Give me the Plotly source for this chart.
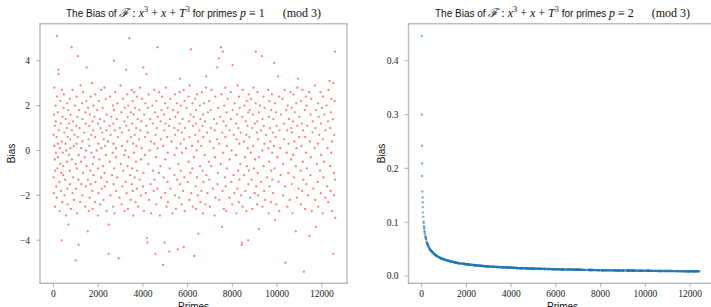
import plotly.graph_objects as go

# ---------------- data ----------------
# Bias for primes p = 1 (mod 3), in tenths, in increasing order of p
BIAS_MOD1_X10 = [
    7, -12, -19, 16, 28, 2, -4, 11, -25, -9, 20, 13, -1, -16, 6, -21, 24, 51, -8, 3,
    17, -3, 36, 34, 9, -14, -27, 1, -6, 22, 12, -18, -10, -40, 4, 27, -23, 15, -1, -11,
    -7, 19, 25, 8, -20, -13, 3, 14, -29, 0, 10, -5, 21, -17, -24, 6, 18, -33, -2, 12,
    23, -9, -15, 5, 1, 16, -26, 46, 9, -4, -19, 27, 13, -12, 2, -22, 7, 20, -49, -6,
    -17, 11, 3, 24, -8, -28, 15, 6, 42, -13, -42, -2, 18, 10, -23, 29, -5, 1, -15, 21,
    4, -20, 14, -10, 26, 8, -3, -25, 17, 12, -16, 0, 22, -7, 37, -36, -13, 19, 5, -27,
    11, 2, -21, 16, -9, -15, 24, 7, -1, 30, -18, 13, -26, -6, 9, 20, -11, -3, 15, -23,
    6, 25, -14, 0, 18, -29, -8, 12, 3, -19, 22, -4, 14, -24, 10, -12, 27, 1, -17, 8,
    19, -7, -22, 5, 13, 28, -10, -16, 2, 23, -2, 9, -27, 16, -14, 4, -46, -33, 11, -5,
    24, -20, 7, 15, -11, -1, 20, -25, 12, 3, -15, 40, 18, -8, -28, 9, 26, -3, 1, -18,
    14, -12, 21, 6, -48, -21, 10, 29, -6, 17, -24, 2, 8, -16, 23, -9, -2, 13, -27, 19,
    0, -14, 36, 11, -19, 25, 4, -7, 15, -26, 20, -3, 9, 50, -11, -22, 17, 6, 27, -15,
    -8, 12, 22, -18, 3, -29, 16, -1, 26, -12, 7, 19, -23, -5, 10, 2, -17, 24, -9, 14,
    -25, 5, 18, -13, 28, 9, -20, -4, 13, 1, 23, -16, 37, -10, -27, 16, 6, -2, 21, -19,
    11, 34, -39, -41, 8, 19, -6, 25, -22, 0, 14, -15, 4, -28, 20, 12, -9, -18, 27, 3,
    -13, 17, -46, 7, -3, -24, 22, 10, -17, 46, 1, 15, -10, 26, -29, -7, 13, 5, -21, 18,
    24, -51, 2, -12, 16, 9, -41, -19, 21, -4, 12, 28, -25, 6, -14, 19, -1, -23, 11, -45,
    -8, 14, 23, -17, 4, -28, 18, 10, -11, -2, 25, -20, 7, 15, -26, 1, 21, -13, 9, -44,
    17, -6, -21, 12, 26, -15, 32, 3, -9, 20, -24, 8, -1, 14, -18, 27, -43, 5, -12, 22,
    -27, 10, 1, 19, -14, 24, -5, 13, -22, 6, 29, -10, 16, 45, -19, 2, -8, 21, -25, 11,
    15, -3, -47, 23, 7, -16, 12, -26, 18, 0, -12, 25, -20, 4, -37, 9, 20, -7, -23, 14,
    2, -18, 26, 11, -9, -28, 16, 6, -14, 21, -2, 13, -24, 28, 33, -11, 8, -19, 17, -5,
    22, -13, 4, -25, 18, 10, -7, 27, -17, 1, 14, -29, 9, -3, 24, -21, 12, 5, 37, -15,
    -10, 19, 41, 3, -22, 15, -6, 46, 25, -34, 8, -18, 44, -1, 13, -26, 20, -12, 6, 28,
    -16, 11, -27, 17, 2, -8, 23, -21, 9, -4, 26, 14, -14, 0, -24, 38, 18, -11, 7, -19,
    21, -2, 12, -28, 5, 16, -17, 29, -9, 10, -23, 24, 3, -13, 19, -6, 8, -20, -42, -41,
    15, -25, 27, 4, -11, 20, -3, -18, 13, 7, -27, 22, -7, 11, 1, -40, 17, -15, 25, -9,
    6, 18, -21, -1, 23, -13, 10, -26, 16, 2, 28, -8, -19, 12, -4, 21, 44, -16, 8, -24,
    13, 26, -10, 5, -20, 17, -35, -3, 20, 9, -14, 42, 0, -25, 14, 24, -7, 11, -18, 3,
    19, -22, 7, -12, 27, 1, -28, 15, -5, 22, -16, 10, 4, -23, 18, -9, 25, -1, -13, 8,
    -19, 14, 2, 39, -8, 21, -31, 6, 17, -24, 11, -3, 33, -14, 24, -27, 9, 1, -11, 16,
    23, -6, -20, 12, 5, 27, -16, -50, 18, -1, 9, -25, 20, -10, 3, 14, -22, 26, -4, 10,
    -15, 19, 8, -28, 13, -2, 25, -12, 4, 17, -36, -7, 21, 1, -21, 11, 28, 32, -17, 6,
    15, -9, -24, 22, 2, 12, -18, 27, -5, 9, -13, -54, 18, -26, 6, 24, -1, -15, 20, -8,
    11, -20, 26, -38, 4, -11, 16, -3, 23, -27, 8, 13, -17, 1, 29, -22, 10, -34, 18, -6,
    -14, 21, 3, -25, 15, 7, -9, 26, -19, 12, -2, 19, -28, 5, 24, -12, -5, 16, -21, 9,
    20, -16, 1, 13, -23, 27, 31, -7, 10, -18, 17, -1, 23, -27, 4, 14, -46, 30, -10, -20,
    7, 22, -13, 44, -30,
]

# Bias for primes p = 2 (mod 3), in units of 1e-4, in increasing order of p
BIAS_MOD2_E4 = [
    4460, 3000, 2420, 2090, 1860, 1570, 1460, 1370, 1280, 1180, 1100, 1010,
    986, 925, 899, 875, 830, 812, 778, 735, 722, 710, 687, 677, 630, 622, 614, 600,
    593, 586, 579, 567, 555, 539, 534, 510, 506, 501, 485, 482, 475,
    474, 467, 461, 458, 452, 449, 443, 438, 432, 430, 425, 411, 409, 407, 400, 398,
    396, 390, 383, 381, 380, 378, 373, 371, 366, 362, 356, 352, 349, 344, 341, 339,
    337, 335, 331, 330, 327, 326, 321, 318,
    317, 316, 315, 313, 312, 311,
    308, 306, 304, 302, 299, 297, 295, 293, 291, 290, 288, 286, 285, 283, 281, 280,
    278, 277, 275, 274, 272, 271, 269, 268, 266, 265, 264, 262, 261, 260, 258, 257,
    256, 254, 253,
    252, 250, 249, 248, 247, 245, 244, 243, 242, 241, 240, 238, 237, 236, 235, 234,
    233, 232, 231, 230, 229, 228, 227, 226, 225, 224, 223, 222, 222, 221, 220, 219,
    218, 218, 217, 216, 215, 215, 214, 213, 212, 212, 211, 210, 209, 209, 208, 207,
    207, 206, 205, 204, 204, 203, 202, 202, 201, 200, 200, 199, 198, 198, 197, 196,
    195, 195, 194, 194, 193, 192, 192, 191, 191, 190, 190, 189, 189, 188, 188, 187,
    187, 186, 186, 185, 184, 184, 183, 183, 182, 182, 181, 181, 180, 180, 179, 179,
    178, 178, 177, 177, 176, 176, 175, 175, 174, 174, 173, 173, 172, 172, 171, 171,
    171, 170, 170, 169, 169, 168, 168, 168, 167, 167, 166, 166, 166,
    165, 165, 165, 164, 164, 164, 163, 163, 163, 162, 162, 162, 161, 161, 161, 160,
    160, 160, 159, 159, 159, 158, 158, 158, 157, 157, 157, 156, 156, 156, 155,
    155, 155, 154, 154, 154, 153, 153, 152, 152, 152, 151, 151, 150, 150, 150, 149,
    149, 149, 148, 148, 148, 147, 147, 147, 146, 146,
    146, 146, 145, 145, 145, 145, 144, 144, 144, 143, 143, 143, 143, 142, 142, 142,
    142, 141, 141, 141, 141, 140, 140, 140, 140, 140, 139, 139, 139, 139, 139, 139, 139,
    138, 138, 138, 138, 137, 137, 137, 136, 136, 136, 136, 135, 135, 135, 135, 134,
    134, 134, 134, 134, 133, 133, 133, 133, 133, 132, 132, 132, 132,
    132, 131, 131, 131, 131, 131, 130, 130, 130, 130, 130, 129, 129, 129, 129, 129,
    128, 128, 128, 128, 128, 128, 127, 127, 127, 127, 127, 127,
    126, 126, 126, 126, 126, 125, 125, 125, 125, 125, 125, 124, 124, 124, 124, 124, 124,
    123, 123, 123, 123, 123, 123, 122, 122, 122, 122, 122, 122, 122,
    121, 121, 121, 121, 121, 121, 120, 120, 120, 120, 120, 120, 119, 119, 119, 119, 119, 119,
    118, 118, 118, 118, 118, 117, 117, 117, 117, 117,
    116, 116, 116, 116, 116, 116, 115, 115, 115, 115, 115, 115, 115,
    114, 114, 114, 114, 114, 114, 114, 113, 113, 113, 113, 113, 113,
    112, 112, 112, 112, 112, 112, 112, 112, 111, 111, 111, 111, 111, 111, 111, 111, 111,
    110, 110, 110, 110, 110, 110, 110, 110, 110, 110, 110,
    109, 109, 109, 109, 109, 109, 108, 108, 108, 108, 108, 108, 108,
    107, 107, 107, 107, 107, 107, 107, 106, 106, 106, 106, 106, 106,
    105, 105, 105, 105, 105, 105, 105, 105, 105, 105, 104, 104, 104, 104, 104, 104, 104, 104, 104, 104,
    103, 103, 103, 103, 103, 103, 103, 103, 103,
    102, 102, 102, 102, 102, 102, 102, 102, 102, 102, 102, 102, 102, 102, 102,
    101, 101, 101, 101, 101, 101, 101, 101, 101, 101, 101, 101, 101, 101, 101,
    100, 100, 100, 100, 100, 100, 100, 100, 100, 99, 99, 99, 99, 99, 99, 99, 99, 99,
    98, 98, 98, 98, 98, 98, 98, 98,
    97, 97, 97, 97, 97, 97, 97, 97, 97, 97, 97, 97, 97,
    96, 96, 96, 96, 96, 96, 96, 96, 96, 96, 96, 96,
    95, 95, 95, 95, 95, 95, 95, 95, 95, 94, 94, 94, 94, 94, 94, 94, 94, 94, 94,
    93, 93, 93, 93, 93, 93, 93, 93, 93,
    92, 92, 92, 92, 92, 92, 92, 92, 92, 92, 92, 92, 92, 92,
    91, 91, 91, 91, 91, 91, 91, 91, 91, 91, 91, 91, 91,
    90, 90, 90, 90, 90, 90, 90, 90, 90, 90, 90, 90, 90,
    89, 89, 89, 89, 89, 89, 89, 89, 89, 89, 89, 89,
    88, 88, 88, 88, 88, 88, 88, 88, 88, 88, 88, 88, 88, 88, 88, 88,
    87, 87, 87, 87, 87, 87, 87, 87, 87, 87, 87, 87,
]

X_TICKS = [0, 2000, 4000, 6000, 8000, 10000, 12000]
Y1_TICKS = [-4, -2, 0, 2, 4]
Y1_LABELS = ["\u22124", "\u22122", "0", "2", "4"]
Y2_TICKS = [0.0, 0.1, 0.2, 0.3, 0.4]
Y2_LABELS = ["0.0", "0.1", "0.2", "0.3", "0.4"]

# primes (the x categories), split by residue mod 3
LIMIT = 13000
sieve = [True] * (LIMIT + 1)
sieve[0] = sieve[1] = False
for i in range(2, int(LIMIT ** 0.5) + 1):
    if sieve[i]:
        for j in range(i * i, LIMIT + 1, i):
            sieve[j] = False
primes = [n for n in range(2, LIMIT + 1) if sieve[n]]
primes_mod1 = [p for p in primes if p % 3 == 1]
primes_mod2 = [p for p in primes if p % 3 == 2]

n1 = min(len(primes_mod1), len(BIAS_MOD1_X10))
n2 = min(len(primes_mod2), len(BIAS_MOD2_E4))
x1 = primes_mod1[:n1]
y1 = [v / 10 for v in BIAS_MOD1_X10[:n1]]
x2 = primes_mod2[:n2]
y2 = [v / 10000 for v in BIAS_MOD2_E4[:n2]]

# ---------------- figure ----------------
W, H = 711, 307
def fx(px):
    return px / W
def fy(py):
    return 1 - py / H

SANS = "Liberation Sans, Arial, sans-serif"
SERIF = "Liberation Serif, Times New Roman, serif"
LINE = "#262626"

L1, R1, L2, R2 = 40, 347, 408.5, 711
TOP, BOT = 23.7, 283.3
X1_RANGE = [-600, 13125]
X2_RANGE = [-590, 12939]
Y1_RANGE = [-5.915, 5.648]
Y2_RANGE = [-0.01357, 0.469]

fig = go.Figure()
fig.add_trace(go.Scatter(
    x=x1, y=y1, mode="markers", xaxis="x", yaxis="y",
    marker=dict(size=2.3, color="rgba(255,0,0,0.5)", line=dict(width=0)),
    showlegend=False, hoverinfo="skip"))
fig.add_trace(go.Scatter(
    x=x2, y=y2, mode="markers", xaxis="x2", yaxis="y2",
    marker=dict(size=2.4, color="rgba(31,119,180,0.55)", line=dict(width=0)),
    showlegend=False, hoverinfo="skip"))

tick_font = dict(family=SERIF, size=9.5, color="#222")
x_common = dict(showline=False, ticks="outside", ticklen=1, tickwidth=1,
                tickcolor="rgba(0,0,0,0)", showgrid=False, zeroline=False,
                automargin=False, tickfont=tick_font)
y_common = dict(showline=False, ticks="outside", ticklen=4, tickwidth=1,
                tickcolor="rgba(0,0,0,0)", showgrid=False, zeroline=False,
                automargin=False, tickfont=tick_font, ticklabelstandoff=3)

ydom = [fy(BOT), fy(TOP)]
fig.update_layout(
    template="simple_white",
    width=W, height=H, margin=dict(l=0, r=0, t=0, b=0, pad=0),
    paper_bgcolor="white", plot_bgcolor="white",
    xaxis=dict(domain=[fx(L1), fx(R1)], range=X1_RANGE,
               tickvals=X_TICKS, ticktext=[str(v) for v in X_TICKS], anchor="y", **x_common),
    yaxis=dict(domain=ydom, range=Y1_RANGE,
               tickvals=Y1_TICKS, ticktext=Y1_LABELS, anchor="x", **y_common),
    xaxis2=dict(domain=[fx(L2), fx(R2)], range=X2_RANGE,
                tickvals=X_TICKS, ticktext=[str(v) for v in X_TICKS], anchor="y2", **x_common),
    yaxis2=dict(domain=ydom, range=Y2_RANGE,
                tickvals=Y2_TICKS, ticktext=Y2_LABELS, anchor="x2", **y_common),
)

# frames and tick marks, drawn as thin filled rectangles
SW = 1.4   # spine thickness, px
TW = 1.1   # tick thickness, px
TL = 4.0   # tick length, px
box = dict(type="rect", layer="above", fillcolor=LINE, line=dict(width=0))

def hbar(xa, xb, y, w):
    fig.add_shape(xref="paper", yref="paper", x0=fx(xa - w / 2), x1=fx(xb + w / 2),
                  y0=fy(y + w / 2), y1=fy(y - w / 2), **box)

def vbar(x, ya, yb, w):
    fig.add_shape(xref="paper", yref="paper", x0=fx(x - w / 2), x1=fx(x + w / 2),
                  y0=fy(yb), y1=fy(ya), **box)

hbar(L1, R1, BOT, SW); hbar(L1, R1, TOP, SW); vbar(L1, TOP, BOT, SW); vbar(R1, TOP, BOT, SW)
hbar(L2, R2, BOT, SW); hbar(L2, R2, TOP, SW); vbar(L2, TOP, BOT, SW)

for xref, rng, l, r in (("x", X1_RANGE, L1, R1), ("x2", X2_RANGE, L2, R2)):
    half = (TW / 2) * (rng[1] - rng[0]) / (r - l)
    for t in X_TICKS:
        fig.add_shape(xref=xref, yref="paper", x0=t - half, x1=t + half,
                      y0=fy(BOT + TL), y1=fy(BOT), **box)

for yref, rng, ticks, l in (("y", Y1_RANGE, Y1_TICKS, L1), ("y2", Y2_RANGE, Y2_TICKS, L2)):
    half = (TW / 2) * (rng[1] - rng[0]) / (BOT - TOP)
    for t in ticks:
        fig.add_shape(xref="paper", yref=yref, x0=fx(l - TL), x1=fx(l),
                      y0=t - half, y1=t + half, **box)

def title_text(r):
    m = f"<span style='font-family:{SERIF};font-size:12px'>"
    return ("The Bias of " + m + "<i>\u2131</i> : <i>x</i><sup>3</sup> + <i>x</i> + "
            "<i>T</i><sup>3</sup></span> for primes " + m +
            f"<i>p</i> \u2261 {r}\u2003\u2002(mod 3)</span>")

ann = []
ann.append(dict(x=fx(193.5), y=fy(12.5), text=title_text(1)))
ann.append(dict(x=fx(562.5), y=fy(12.5), text=title_text(2)))
ann.append(dict(x=fx(193.5), y=fy(306), text="Primes"))
ann.append(dict(x=fx(562), y=fy(306), text="Primes"))
ann.append(dict(x=fx(11.7), y=fy(153.5), text="Bias", textangle=-90))
ann.append(dict(x=fx(381.7), y=fy(153.5), text="Bias", textangle=-90))
for a in ann:
    a.update(xref="paper", yref="paper", showarrow=False, xanchor="center",
             yanchor="middle", font=dict(family=SANS, size=10, color="#111"))
    fig.add_annotation(**a)

fig.write_html(
    "out.html",
    config={"displayModeBar": False},
    post_script="document.body.style.margin='0px';document.body.style.overflow='hidden';",
)
